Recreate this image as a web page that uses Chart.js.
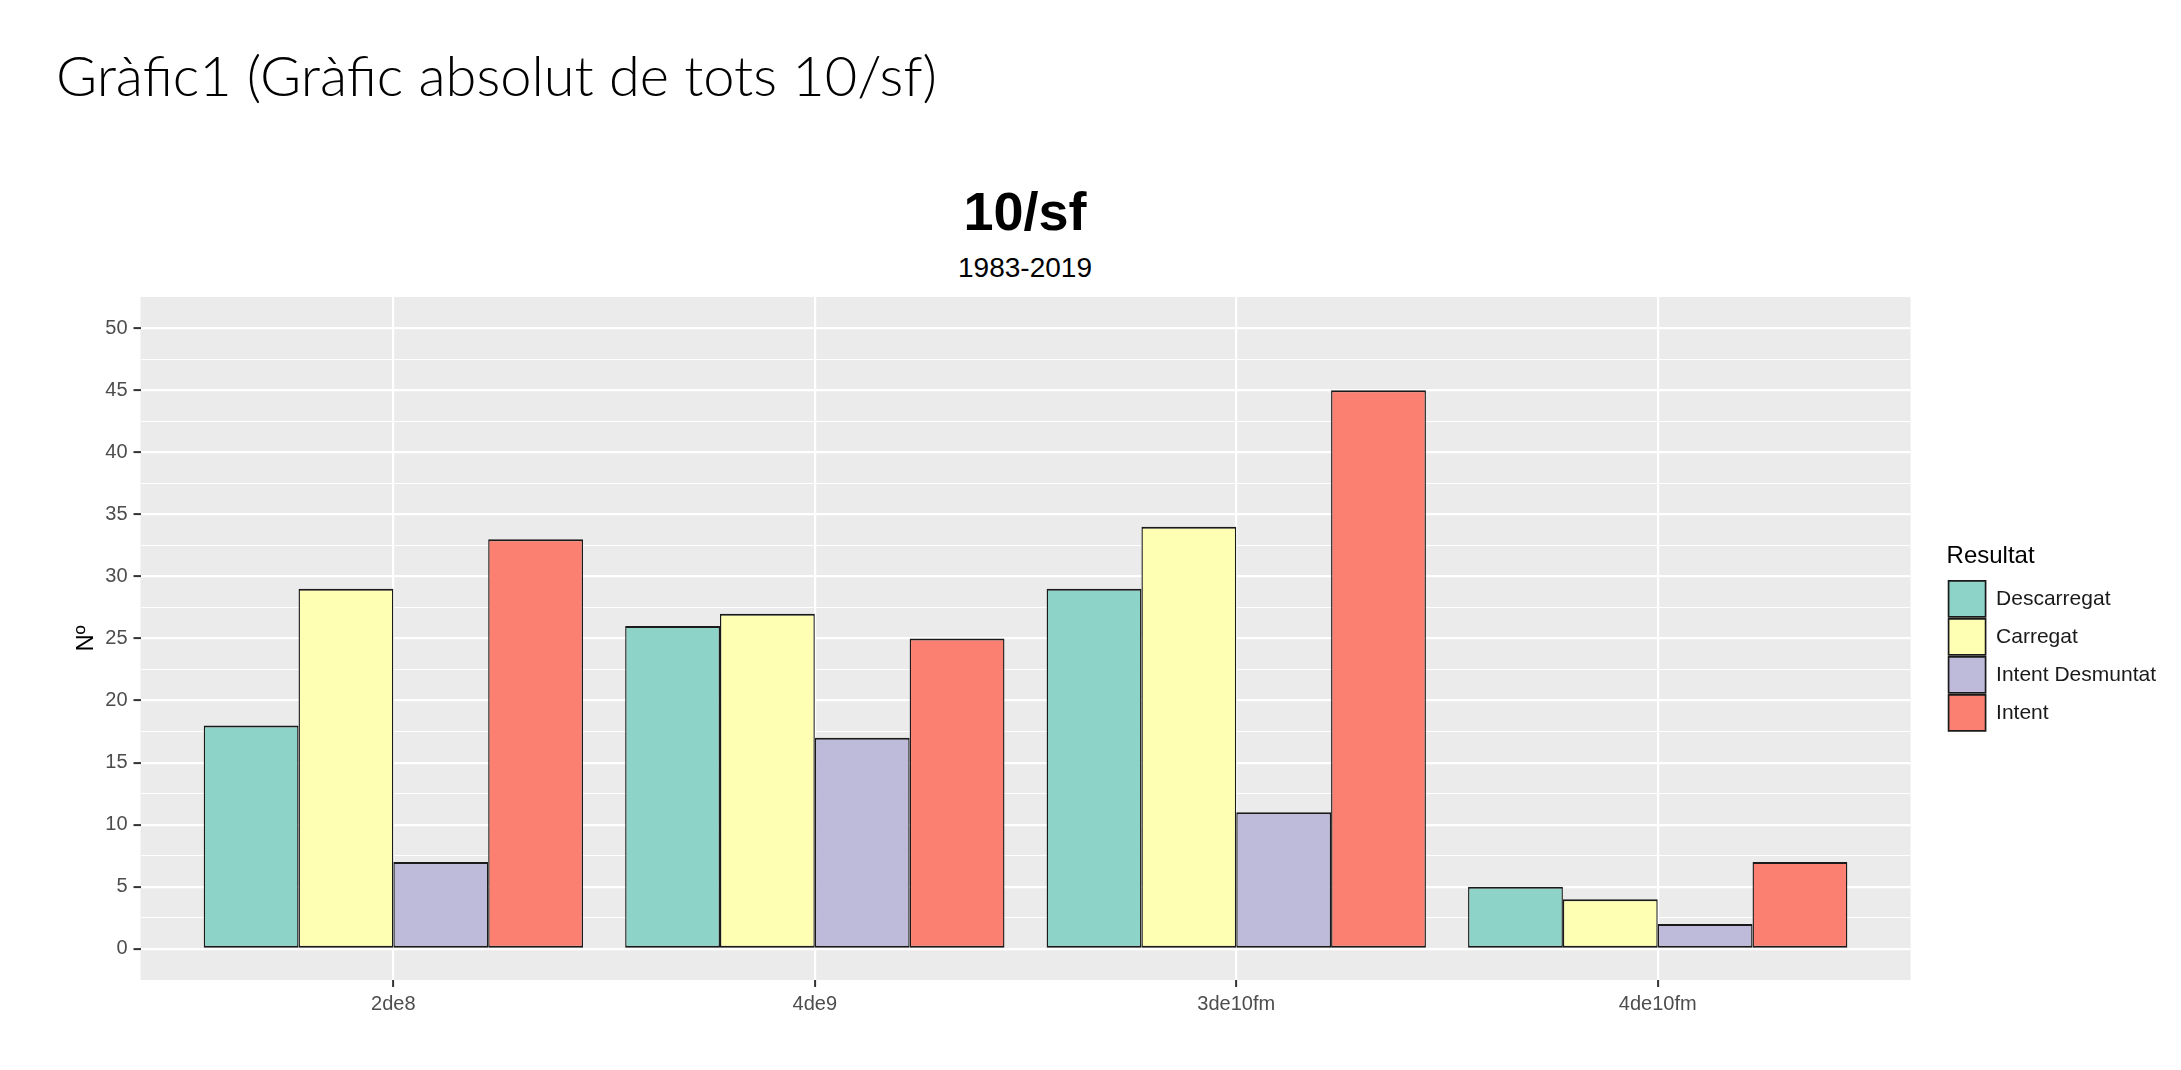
<!DOCTYPE html>
<html>
<head>
<meta charset="utf-8">
<title>10/sf</title>
<script src="https://cdn.jsdelivr.net/npm/chart.js@4.4.1/dist/chart.umd.min.js"></script>
<style>
  html, body { margin: 0; padding: 0; background: #fff; }
  body {
    position: relative; width: 2181px; height: 1070px; overflow: hidden;
    font-family: "Liberation Sans", Arial, sans-serif; color: #000;
  }
  #page-title {
    position: absolute; left: 56px; top: 47px; white-space: nowrap;
    font-family: Lato, "Open Sans", sans-serif; font-weight: 300;
    font-size: 56px; line-height: 1; transform-origin: left top;
  }
  .plot-head {
    position: absolute; left: 0; width: 2050px; text-align: center; line-height: 1;
  }
  #plot-title { top: 184px; font-size: 54px; font-weight: bold; }
  #plot-sub { top: 254px; font-size: 28px; }
  #wrap { position: absolute; left: 0; top: 0; width: 2181px; height: 1070px; }
</style>
</head>
<body>
<div id="page-title">Gràfic1 (Gràfic absolut de tots 10/sf)</div>
<div class="plot-head" id="plot-title">10/sf</div>
<div class="plot-head" id="plot-sub">1983-2019</div>
<div id="wrap"><canvas id="chart"></canvas></div>

<script>
// ---- Data -----------------------------------------------------------------

const categories = ["2de8", "4de9", "3de10fm", "4de10fm"];
const seriesNames = ["Descarregat", "Carregat", "Intent Desmuntat", "Intent"];
const descarregat = [18, 26, 29, 5];
const carregat = [29, 27, 34, 4];
const intentDesmuntat = [7, 17, 11, 2];
const intent = [33, 25, 45, 7];
const yMajor = [0, 5, 10, 15, 20, 25, 30, 35, 40, 45, 50];
const yMinor = [2.5, 7.5, 12.5, 17.5, 22.5, 27.5, 32.5, 37.5, 42.5, 47.5];

const FILLS = ["#8DD3C7", "#FFFFB3", "#BEBADA", "#FB8072"];
const FONT = '"Liberation Sans", Arial, sans-serif';
const TICK_GREY = "#4D4D4D";

// ---- Helpers -------------------------------------------------------------

// ggplot-style grey panel behind the grid
const panelBg = {
  id: "panelBg",
  beforeDraw(chart) {
    const { ctx, chartArea: a } = chart;
    ctx.save();
    ctx.fillStyle = "#EBEBEB";
    ctx.fillRect(a.left, a.top, a.right - a.left, a.bottom - a.top);
    ctx.restore();
  },
};

function toPoints(values) {
  return values.map((v, i) => ({ x: i + 1, y: v }));
}

const isMajor = (ctx) => ctx.tick && yMajor.includes(ctx.tick.value);

const allSeries = [descarregat, carregat, intentDesmuntat, intent];
const datasets = allSeries.map((values, i) => ({
  label: seriesNames[i],
  data: toPoints(values),
  backgroundColor: FILLS[i],
  borderColor: "#1a1a1a",
  borderWidth: { top: 2, bottom: 2, left: 1.4, right: 1.4 },
  borderSkipped: false,
  categoryPercentage: 0.9,
  barPercentage: 1.0,
}));

// ---- Chart -----------------------------------------------------------------

new Chart(document.getElementById("chart"), {
  type: "bar",
  data: { datasets },
  plugins: [panelBg],
  options: {
    responsive: true,
    maintainAspectRatio: false,
    animation: false,
    layout: { padding: { top: 297, left: 0, bottom: 0, right: 15 } },
    plugins: {
      title: { display: false },
      tooltip: { enabled: false },
      legend: {
        position: "right",
        align: "start",
        title: {
          display: true,
          text: "Resultat",
          position: "start",
          color: "#000",
          font: { family: FONT, size: 24 },
          padding: { top: 247, bottom: 6 },
        },
        labels: {
          boxWidth: 37,
          boxHeight: 36,
          padding: 2,
          color: "#1a1a1a",
          font: { family: FONT, size: 21 },
        },
      },
    },
    scales: {
      x: {
        type: "linear",
        min: 0.4,
        max: 4.6,
        offset: false,
        afterBuildTicks: (s) => { s.ticks = categories.map((c, i) => ({ value: i + 1 })); },
        afterFit: (s) => { s.height = 90; },
        border: { display: false },
        grid: {
          offset: false,
          color: "#FFFFFF",
          lineWidth: 2.2,
          tickColor: "#333333",
          tickWidth: 2,
          tickLength: 7,
        },
        ticks: {
          autoSkip: false,
          maxRotation: 0,
          padding: 5,
          color: TICK_GREY,
          font: { family: FONT, size: 20 },
          callback: (v) => categories[v - 1] ?? "",
        },
      },
      y: {
        type: "linear",
        min: -2.5,
        max: 52.5,
        afterBuildTicks: (s) => {
          s.ticks = [...yMajor, ...yMinor].sort((a, b) => a - b).map((v) => ({ value: v }));
        },
        afterFit: (s) => { s.width = 140.5; },
        border: { display: false },
        grid: {
          color: "#FFFFFF",
          lineWidth: (ctx) => (isMajor(ctx) ? 2.2 : 1.1),
          tickColor: (ctx) => (isMajor(ctx) ? "#333333" : "rgba(0,0,0,0)"),
          tickWidth: 2,
          tickLength: 7,
        },
        ticks: {
          autoSkip: false,
          padding: 6,
          color: TICK_GREY,
          font: { family: FONT, size: 20 },
          callback: (v) => (yMajor.includes(v) ? String(v) : ""),
        },
        title: {
          display: true,
          text: "Nº",
          color: "#000",
          font: { family: FONT, size: 24 },
          padding: { top: 72, bottom: 0 },
        },
      },
      // empty spacer between the panel and the legend
      gap: {
        type: "linear",
        position: "right",
        afterFit: (s) => { s.width = 36; },
        border: { display: false },
        grid: { display: false },
        ticks: { display: false },
      },
    },
  },
});

// squeeze the heading to the width it has in the picture
const heading = document.getElementById("page-title");
heading.style.transform = `scaleX(${881 / heading.getBoundingClientRect().width})`;
</script>
</body>
</html>
